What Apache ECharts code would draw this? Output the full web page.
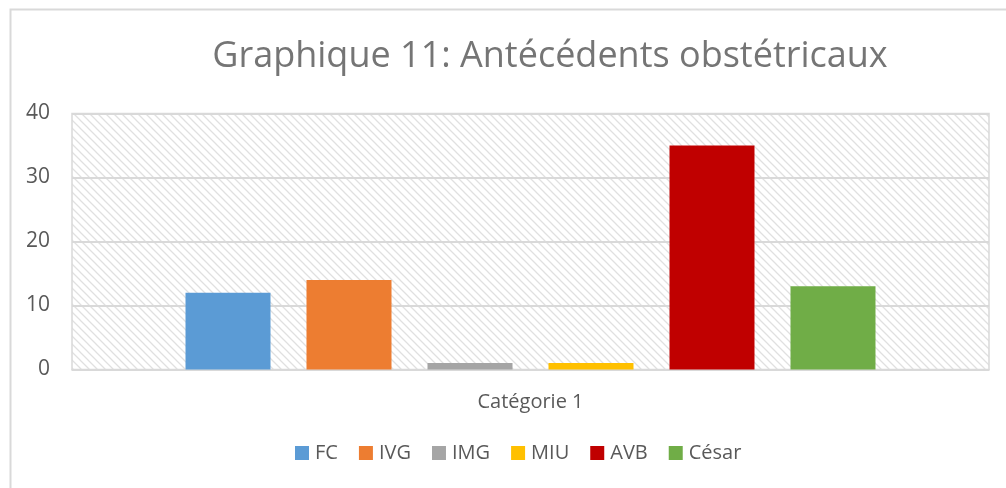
<!DOCTYPE html>
<html>
<head>
<meta charset="utf-8">
<script src="https://cdn.jsdelivr.net/npm/echarts@6/dist/echarts.min.js"></script>
<style>
html,body{margin:0;padding:0;background:#fff;}
#chart{width:1006px;height:488px;}
</style>
</head>
<body>
<div id="chart"></div>
<script>
const titleText = 'Graphique 11: Antécédents obstétricaux';
const categories = ['Catégorie 1'];
const seriesNames = ['FC', 'IVG', 'IMG', 'MIU', 'AVB', 'César'];
const seriesValues = [12, 14, 1, 1, 35, 13];
const seriesColors = ['#5B9BD5', '#ED7D31', '#A5A5A5', '#FFC000', '#C00000', '#70AD47'];
const yTicks = { min: 0, max: 40, interval: 10 };

// hatch pattern
const pc = document.createElement('canvas');
pc.width = 8; pc.height = 8;
const ctx = pc.getContext('2d');
ctx.fillStyle = '#ffffff';
ctx.fillRect(0, 0, 8, 8);
ctx.strokeStyle = '#e0e0e0';
ctx.lineWidth = 1.3;
ctx.beginPath();
ctx.moveTo(-2, -2); ctx.lineTo(10, 10);
ctx.moveTo(-10, -2); ctx.lineTo(2, 10);
ctx.moveTo(6, -2); ctx.lineTo(18, 10);
ctx.stroke();

const FONT = '"Open Sans", "Noto Sans", sans-serif';

const chart = echarts.init(document.getElementById('chart'), null, { renderer: 'canvas' });
const option = {
  animation: false,
  backgroundColor: '#ffffff',
  textStyle: { fontFamily: FONT },
  title: {
    text: titleText,
    left: 545, top: 34, textAlign: 'center',
    textStyle: { fontFamily: FONT, fontSize: 36, fontWeight: 'normal', color: '#757575' }
  },
  graphic: [{
    type: 'rect', left: 8, top: 7, silent: true,
    shape: { width: 1010, height: 500 },
    style: { fill: 'none', stroke: '#d9d9d9', lineWidth: 2 }
  }],
  legend: {
    data: seriesNames,
    left: 295, top: 443, padding: 0,
    itemWidth: 14, itemHeight: 14, itemGap: 21,
    icon: 'rect',
    textStyle: { fontFamily: FONT, fontSize: 20, color: '#595959', padding: [0, 0, 0, 1] }
  },
  grid: {
    left: 72, right: 17, top: 113.5, bottom: 118.5,
    show: true,
    backgroundColor: { image: pc, repeat: 'repeat' },
    borderColor: '#d9d9d9', borderWidth: 1.5
  },
  xAxis: {
    type: 'category',
    data: categories,
    axisTick: { show: false },
    axisLine: { lineStyle: { color: '#d9d9d9', width: 1.5 } },
    axisLabel: { fontFamily: FONT, fontSize: 20, color: '#595959', margin: 23 }
  },
  yAxis: {
    type: 'value',
    min: yTicks.min, max: yTicks.max, interval: yTicks.interval,
    axisLine: { show: false },
    axisTick: { show: false },
    axisLabel: { fontFamily: FONT, fontSize: 21, color: '#595959', margin: 22 },
    splitLine: { lineStyle: { color: '#d9d9d9', width: 2 } }
  },
  series: seriesNames.map((name, i) => ({
    name: name,
    type: 'bar',
    data: [seriesValues[i]],
    barWidth: 85,
    barGap: '42.35%',
    itemStyle: { color: seriesColors[i] }
  }))
};
chart.setOption(option);
</script>
</body>
</html>
